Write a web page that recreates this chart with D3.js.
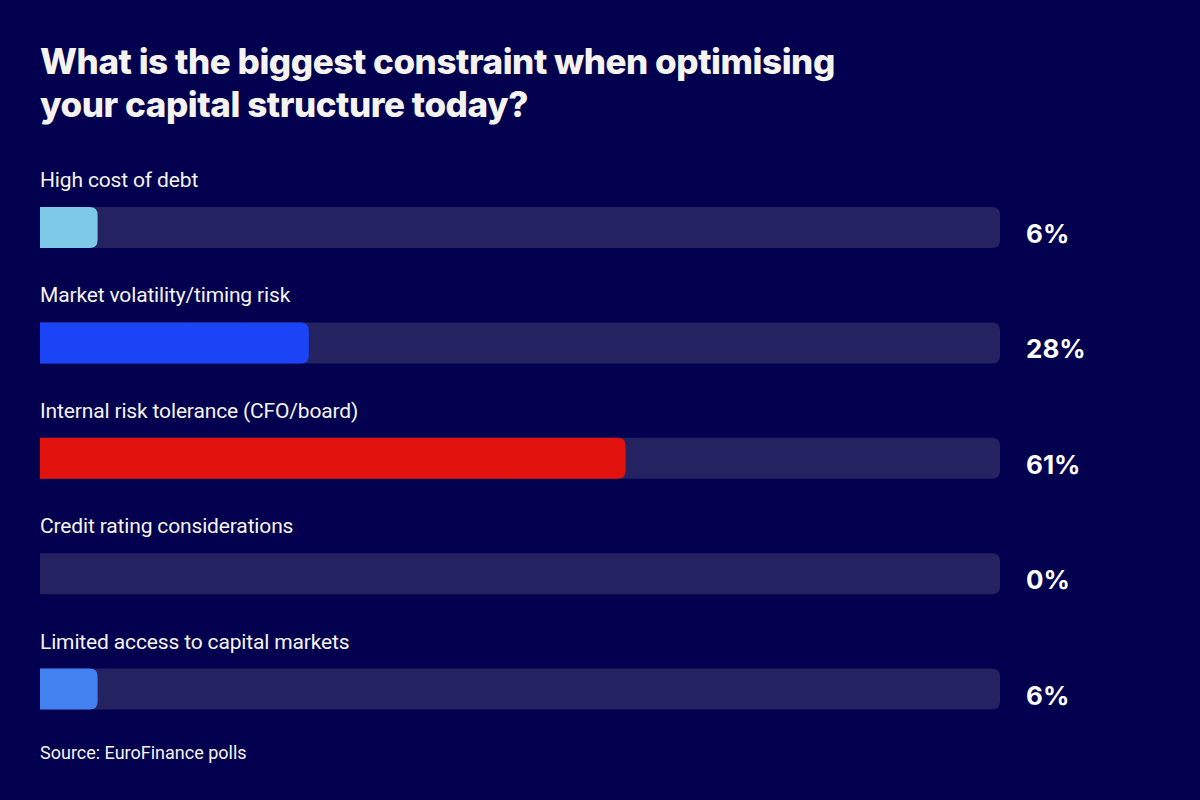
<!DOCTYPE html>
<html>
<head>
<meta charset="utf-8">
<script src="https://cdn.jsdelivr.net/npm/d3@7"></script>
<style>
  html, body { margin: 0; padding: 0; background: #03014f; }
  svg { display: block; }
</style>
</head>
<body>
<div id="chart"></div>
<script>
// Chart data
const categories = [
    "High cost of debt",
    "Market volatility/timing risk",
    "Internal risk tolerance (CFO/board)",
    "Credit rating considerations",
    "Limited access to capital markets"
];
const values = [6, 28, 61, 0, 6];
const barColors = ["#7ec8e8", "#1a44f5", "#e2130f", "#1a44f5", "#4282f0"];
const titleLines = ["What is the biggest constraint when optimising", "your capital structure today?"];
const sourceText = "Source: EuroFinance polls";

const width = 1200, height = 800;
const margin = { left: 40, right: 200 };

const svg = d3.select("#chart").append("svg")
    .attr("width", width)
    .attr("height", height);

svg.append("rect")
    .attr("width", width)
    .attr("height", height)
    .attr("fill", "#03014f");

// title
svg.append("g").selectAll("text")
    .data(titleLines)
    .join("text")
    .attr("x", margin.left)
    .attr("y", (d, i) => 74 + i * 43)
    .attr("fill", "#f5f3ef")
    .attr("font-family", "Inter, 'Open Sans', sans-serif")
    .attr("font-weight", 800)
    .attr("font-size", 35)
    .attr("letter-spacing", -0.45)
    .text(d => d);

// scales
const x = d3.scaleLinear()
    .domain([0, 100])
    .range([margin.left, width - margin.right]);

const y = d3.scaleBand()
    .domain(categories)
    .range([160, 737])
    .paddingInner(0);

const barH = 41;
const r = 8;

// rect with square left side and rounded right side
function barPath(x0, x1, yTop, h, rad) {
    const w = x1 - x0;
    if (w <= 0) return "";
    const rr = Math.min(rad, w, h / 2);
    return `M${x0},${yTop}` +
        `H${x1 - rr}` +
        `Q${x1},${yTop} ${x1},${yTop + rr}` +
        `V${yTop + h - rr}` +
        `Q${x1},${yTop + h} ${x1 - rr},${yTop + h}` +
        `H${x0}Z`;
}

const rows = svg.append("g").selectAll("g")
    .data(categories)
    .join("g")
    .attr("transform", d => `translate(0,${y(d)})`);

// category labels
rows.append("text")
    .attr("x", margin.left)
    .attr("y", 27)
    .attr("fill", "#f5f3ef")
    .attr("font-family", "Roboto, sans-serif")
    .attr("font-size", 21)
    .attr("letter-spacing", -0.15)
    .text(d => d);

// track
rows.append("path")
    .attr("fill", "#252262")
    .attr("d", () => barPath(x(0), x(100), 47, barH, r));

// value bar
rows.append("path")
    .attr("fill", (d, i) => barColors[i])
    .attr("d", (d, i) => barPath(x(0), x(values[i]), 47, barH, r));

// value labels
rows.append("text")
    .attr("x", 1026)
    .attr("y", 83)
    .attr("fill", "#ffffff")
    .attr("font-family", "Inter, sans-serif")
    .attr("font-weight", 700)
    .attr("font-size", 26)
    .text((d, i) => values[i] + "%");

// source
svg.append("text")
    .attr("x", margin.left)
    .attr("y", 759)
    .attr("fill", "#f5f3ef")
    .attr("font-family", "Roboto, sans-serif")
    .attr("font-size", 18)
    .text(sourceText);
</script>
</body>
</html>
